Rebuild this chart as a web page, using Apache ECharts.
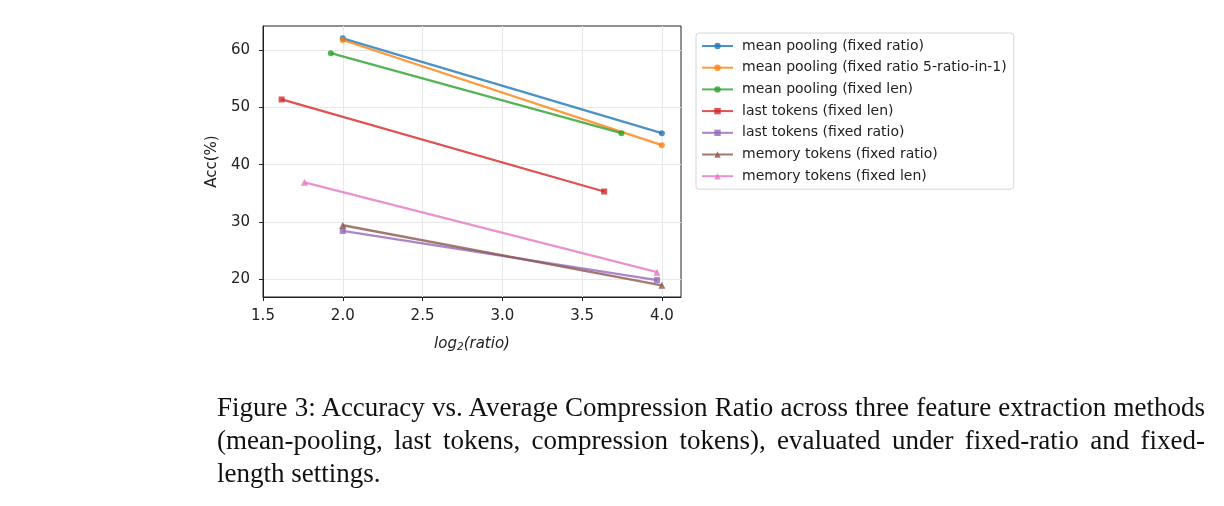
<!DOCTYPE html>
<html>
<head>
<meta charset="utf-8">
<script src="https://cdn.jsdelivr.net/npm/echarts@6/dist/echarts.min.js"></script>
<style>
  html, body { margin: 0; padding: 0; background: #fff; }
  #chart { position: absolute; left: 0; top: 0; width: 1224px; height: 506px; }
  .cap { position: absolute; left: 217px; width: 988px; font-family: "Liberation Serif", "DejaVu Serif", serif; font-size: 27px; color: #111; white-space: nowrap; }
  .just { text-align: justify; text-align-last: justify; }
</style>
</head>
<body>
<div id="chart"></div>
<div class="cap just" style="top:392px">Figure 3: Accuracy vs. Average Compression Ratio across three feature extraction methods</div>
<div class="cap just" style="top:425px">(mean-pooling, last tokens, compression tokens), evaluated under fixed-ratio and fixed-</div>
<div class="cap" style="top:458px">length settings.</div>
<script>
// ---- data ----
const seriesNames = [
  'mean pooling (fixed ratio)',
  'mean pooling (fixed ratio 5-ratio-in-1)',
  'mean pooling (fixed len)',
  'last tokens (fixed len)',
  'last tokens (fixed ratio)',
  'memory tokens (fixed ratio)',
  'memory tokens (fixed len)'
];
const meanPoolFixedRatio   = [[2.0, 62.1], [4.0, 45.5]];
const meanPoolFixedRatio5  = [[2.0, 61.8], [4.0, 43.4]];
const meanPoolFixedLen     = [[1.925, 59.5], [3.747, 45.5]];
const lastTokFixedLen      = [[1.617, 51.4], [3.638, 35.3]];
const lastTokFixedRatio    = [[2.0, 28.4], [3.97, 19.8]];
const memTokFixedRatio     = [[2.0, 29.4], [4.0, 18.9]];
const memTokFixedLen       = [[1.76, 36.9], [3.97, 21.2]];
const xTicks = [1.5, 2.0, 2.5, 3.0, 3.5, 4.0];
const yTicks = [20, 30, 40, 50, 60];

const seriesData = [meanPoolFixedRatio, meanPoolFixedRatio5, meanPoolFixedLen,
  lastTokFixedLen, lastTokFixedRatio, memTokFixedRatio, memTokFixedLen];
const colors = ['#1f77b4', '#ff7f0e', '#2ca02c', '#d62728', '#9467bd', '#8c564b', '#e377c2'];
const symbols = ['circle', 'circle', 'circle', 'rect', 'rect', 'triangle', 'triangle'];
const symSizes = [6, 6, 6, 6, 6, 7, 7];

const chart = echarts.init(document.getElementById('chart'), null, { renderer: 'canvas' });
const font = 'DejaVu Sans';
const option = {
  animation: false,
  textStyle: { fontFamily: font },
  grid: {
    left: 263, top: 26, width: 418, height: 271,
    show: true, borderColor: '#222', borderWidth: 1, backgroundColor: 'transparent'
  },
  xAxis: {
    type: 'value', min: 1.5, max: 4.12,
    name: '{i|log}{s|2}{i|(ratio)}',
    nameLocation: 'middle', nameGap: 38,
    nameTextStyle: {
      rich: {
        i: { fontFamily: font, fontStyle: 'italic', fontSize: 15, color: '#222' },
        s: { fontFamily: font, fontStyle: 'italic', fontSize: 10.5, color: '#222', padding: [7, 0, 0, 0] }
      }
    },
    axisLine: { show: true, onZero: false, lineStyle: { color: '#222', width: 1 } },
    axisTick: { show: true, inside: false, length: 4, customValues: xTicks, lineStyle: { color: '#222' } },
    axisLabel: { customValues: xTicks, margin: 12, fontSize: 15, color: '#222', fontFamily: font,
      formatter: v => v.toFixed(1) },
    splitLine: { show: true, lineStyle: { color: '#e8e8e8', width: 1 } }
  },
  yAxis: {
    type: 'value', min: 16.85, max: 64.25,
    name: 'Acc(%)', nameLocation: 'middle', nameGap: 43,
    nameTextStyle: { fontSize: 15, color: '#222', fontFamily: font },
    axisLine: { show: true, onZero: false, lineStyle: { color: '#222', width: 1 } },
    axisTick: { show: true, inside: false, length: 4, customValues: yTicks, lineStyle: { color: '#222' } },
    axisLabel: { customValues: yTicks, margin: 13, fontSize: 15, color: '#222', fontFamily: font,
      formatter: v => String(Math.round(v)) },
    splitLine: { show: true, lineStyle: { color: '#e8e8e8', width: 1 } }
  },
  legend: {
    orient: 'vertical', left: 696, top: 33,
    padding: [6, 7, 6, 5],
    itemWidth: 31, itemHeight: 8, itemGap: 7.7,
    backgroundColor: '#fff', borderColor: '#d6d6d6', borderWidth: 1, borderRadius: 3,
    textStyle: { fontSize: 14, color: '#222', fontFamily: font, padding: [0, 0, 0, 4] },
    data: seriesNames
  },
  series: seriesNames.map((n, i) => ({
    name: n, type: 'line', data: seriesData[i],
    symbol: symbols[i], symbolSize: symSizes[i], showSymbol: true,
    lineStyle: { color: colors[i], width: 2.3, opacity: 0.8 },
    itemStyle: { color: colors[i], opacity: 0.8 },
    emphasis: { disabled: true }
  }))
};
chart.setOption(option);
</script>
</body>
</html>
